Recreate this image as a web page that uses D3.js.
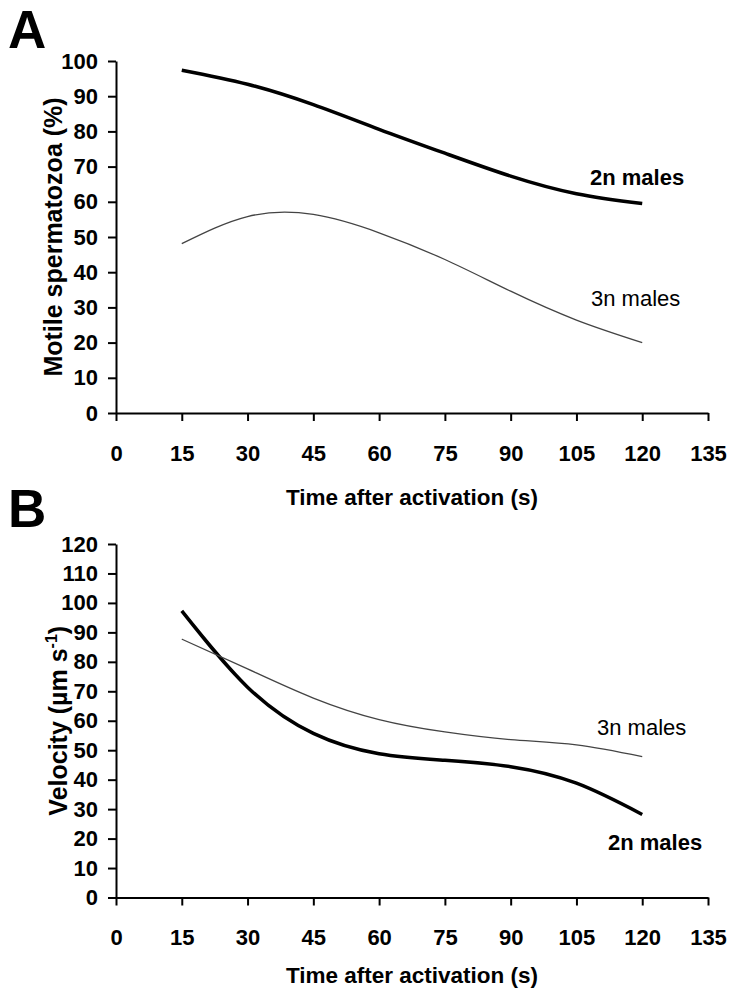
<!DOCTYPE html>
<html>
<head>
<meta charset="utf-8">
<script src="https://cdn.jsdelivr.net/npm/d3@7"></script>
<style>
  body { margin: 0; background: #fff; }
  text { font-family: "Liberation Sans", Arial, sans-serif; fill: #000; }
</style>
</head>
<body>
<div id="chart"></div>
<script>
// values (time after activation, s)
var times = [15, 30, 45, 60, 75, 90, 105, 120];
var motile2n = [97.4, 93.4, 87.6, 80.6, 73.8, 67.3, 62.3, 59.5];
var motile3n = [48.1, 55.8, 56.4, 51.2, 43.6, 34.6, 26.4, 20.0];
var velocity2n = [97.3, 71.4, 55.7, 48.8, 46.6, 44.4, 38.8, 28.2];
var velocity3n = [87.7, 77.6, 67.7, 60.4, 56.2, 53.6, 51.8, 47.8];

var xTicks = [0, 15, 30, 45, 60, 75, 90, 105, 120, 135];
var motileTicks = [0, 10, 20, 30, 40, 50, 60, 70, 80, 90, 100];
var velocityTicks = [0, 10, 20, 30, 40, 50, 60, 70, 80, 90, 100, 110, 120];

var width = 733, height = 1001;

var svg = d3.select("#chart").append("svg")
    .attr("width", width)
    .attr("height", height);

var x = d3.scaleLinear().domain([0, 135]).range([116, 708]);

function drawPanel(opt) {
  var y = d3.scaleLinear().domain([0, opt.yMax]).range([opt.bottom, opt.top]);
  var g = svg.append("g");

  // axes
  var xAxis = g.append("g")
      .attr("transform", "translate(0," + opt.bottom + ")")
      .call(d3.axisBottom(x).tickValues(xTicks).tickSize(8).tickSizeOuter(0).tickPadding(24));
  var yAxis = g.append("g")
      .attr("transform", "translate(" + x(0) + ",0)")
      .call(d3.axisLeft(y).tickValues(opt.ticks).tickSize(8).tickSizeOuter(0).tickPadding(10));

  [xAxis, yAxis].forEach(function(a) {
    a.selectAll("path, line").attr("stroke", "#000").attr("stroke-width", 2);
    a.selectAll("text")
      .attr("font-size", 22)
      .attr("font-weight", "bold")
      .attr("font-family", "'Liberation Sans', Arial, sans-serif")
      .attr("fill", "#000");
  });

  // x title
  g.append("text")
      .attr("x", (x(0) + x(135)) / 2)
      .attr("y", opt.xTitleY)
      .attr("text-anchor", "middle")
      .attr("font-size", 22.5)
      .attr("font-weight", "bold")
      .text("Time after activation (s)");

  // panel letter
  g.append("text")
      .attr("x", 8)
      .attr("y", opt.letterY)
      .attr("font-size", 53)
      .attr("font-weight", "bold")
      .text(opt.letter);

  var line = d3.line()
      .x(function(d) { return x(d.t); })
      .y(function(d) { return y(d.v); })
      .curve(d3.curveNatural);

  opt.series.forEach(function(s) {
    var pts = times.map(function(t, i) { return {t: t, v: s.values[i]}; });
    g.append("path")
      .datum(pts)
      .attr("fill", "none")
      .attr("stroke", s.bold ? "#000" : "#444")
      .attr("stroke-width", s.bold ? 3.5 : 1.3)
      .attr("d", line);

    g.append("text")
      .attr("x", s.labelX)
      .attr("y", s.labelY)
      .attr("font-size", 22)
      .attr("font-weight", s.bold ? "bold" : "normal")
      .text(s.name);
  });

  return {g: g, y: y};
}

var pA = drawPanel({
  letter: "A", letterY: 48,
  top: 61, bottom: 413, yMax: 100, ticks: motileTicks, xTitleY: 505,
  series: [
    {name: "2n males", values: motile2n, bold: true, labelX: 590, labelY: 185},
    {name: "3n males", values: motile3n, bold: false, labelX: 591, labelY: 306}
  ]
});

pA.g.append("text")
    .attr("transform", "translate(62," + (61 + 413) / 2 + ") rotate(-90)")
    .attr("text-anchor", "middle")
    .attr("font-size", 25)
    .attr("font-weight", "bold")
    .text("Motile spermatozoa (%)");

var pB = drawPanel({
  letter: "B", letterY: 527,
  top: 544, bottom: 897.5, yMax: 120, ticks: velocityTicks, xTitleY: 983,
  series: [
    {name: "2n males", values: velocity2n, bold: true, labelX: 608, labelY: 850},
    {name: "3n males", values: velocity3n, bold: false, labelX: 597, labelY: 735}
  ]
});

var vTitle = pB.g.append("text")
    .attr("transform", "translate(67," + (544 + 897.5) / 2 + ") rotate(-90)")
    .attr("text-anchor", "middle")
    .attr("font-size", 25)
    .attr("font-weight", "bold");
vTitle.append("tspan").text("Velocity (µm s");
vTitle.append("tspan").attr("font-size", 16).attr("dy", "-0.6em").text("-1");
vTitle.append("tspan").attr("dy", "0.4em").text(")");
</script>
</body>
</html>
